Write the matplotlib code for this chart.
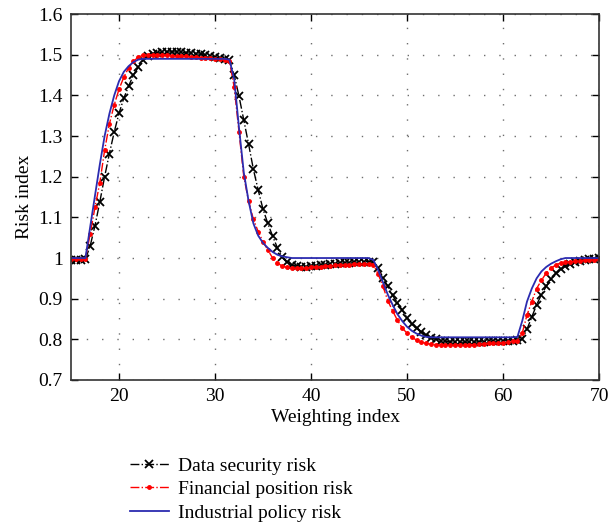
import numpy as np
import matplotlib
matplotlib.use("Agg")
import matplotlib.pyplot as plt

# weighting index grid (step 0.5)
weighting = np.arange(15, 70.5, 0.5)

data_security = [
    0.995, 0.995, 0.995, 0.997, 1.030, 1.080, 1.138, 1.200, 1.257, 1.310,   # 15 - 19.5
    1.356, 1.393, 1.423, 1.450, 1.469, 1.487, 1.496, 1.501, 1.504, 1.506,   # 20 - 24.5
    1.507, 1.507, 1.507, 1.506, 1.505, 1.504, 1.503, 1.501, 1.499, 1.497,   # 25 - 29.5
    1.494, 1.492, 1.490, 1.487, 1.450, 1.398, 1.339, 1.280, 1.218, 1.167,   # 30 - 34.5
    1.120, 1.085, 1.054, 1.025, 1.003, 0.990, 0.983, 0.980, 0.979, 0.979,   # 35 - 39.5
    0.980, 0.981, 0.982, 0.983, 0.985, 0.986, 0.987, 0.988, 0.989, 0.990,   # 40 - 44.5
    0.990, 0.991, 0.991, 0.990, 0.975, 0.952, 0.930, 0.908, 0.890, 0.872,   # 45 - 49.5
    0.853, 0.838, 0.827, 0.817, 0.810, 0.804, 0.800, 0.797, 0.795, 0.794,   # 50 - 54.5
    0.793, 0.793, 0.793, 0.793, 0.793, 0.794, 0.794, 0.795, 0.795, 0.796,   # 55 - 59.5
    0.796, 0.797, 0.797, 0.798, 0.800, 0.825, 0.855, 0.885, 0.910, 0.930,   # 60 - 64.5
    0.948, 0.962, 0.972, 0.980, 0.986, 0.990, 0.993, 0.995, 0.997, 0.998,   # 65 - 69.5
    0.999,                                                                  # 70
]

financial_position = [
    0.997, 0.997, 0.997, 0.998, 1.060, 1.125, 1.185, 1.265, 1.330, 1.377,   # 15 - 19.5
    1.415, 1.445, 1.468, 1.484, 1.494, 1.499, 1.500, 1.500, 1.500, 1.500,   # 20 - 24.5
    1.499, 1.498, 1.497, 1.497, 1.496, 1.495, 1.494, 1.493, 1.492, 1.491,   # 25 - 29.5
    1.490, 1.489, 1.488, 1.485, 1.420, 1.310, 1.200, 1.140, 1.095, 1.065,   # 30 - 34.5
    1.040, 1.020, 1.000, 0.988, 0.980, 0.977, 0.975, 0.975, 0.975, 0.976,   # 35 - 39.5
    0.977, 0.978, 0.979, 0.980, 0.981, 0.982, 0.983, 0.983, 0.984, 0.985,   # 40 - 44.5
    0.985, 0.986, 0.986, 0.984, 0.960, 0.930, 0.895, 0.870, 0.847, 0.828,   # 45 - 49.5
    0.815, 0.805, 0.798, 0.793, 0.790, 0.788, 0.787, 0.786, 0.786, 0.786,   # 50 - 54.5
    0.786, 0.786, 0.786, 0.787, 0.787, 0.788, 0.789, 0.790, 0.790, 0.791,   # 55 - 59.5
    0.792, 0.793, 0.795, 0.797, 0.815, 0.860, 0.893, 0.925, 0.945, 0.963,   # 60 - 64.5
    0.975, 0.983, 0.988, 0.990, 0.991, 0.992, 0.993, 0.994, 0.995, 0.996,   # 65 - 69.5
    0.997,                                                                  # 70
]

industrial_policy = [
    1.000, 1.000, 1.000, 1.000, 1.077, 1.154, 1.230, 1.300, 1.355, 1.400,   # 15 - 19.5
    1.435, 1.458, 1.472, 1.482, 1.488, 1.490, 1.490, 1.490, 1.490, 1.490,   # 20 - 24.5
    1.490, 1.490, 1.490, 1.490, 1.490, 1.490, 1.490, 1.490, 1.490, 1.490,   # 25 - 29.5
    1.490, 1.490, 1.490, 1.488, 1.440, 1.320, 1.210, 1.140, 1.085, 1.055,   # 30 - 34.5
    1.037, 1.025, 1.015, 1.008, 1.004, 1.002, 1.000, 1.000, 1.000, 1.000,   # 35 - 39.5
    1.000, 1.000, 1.000, 1.000, 1.000, 1.000, 1.000, 1.000, 1.000, 1.000,   # 40 - 44.5
    1.000, 1.000, 1.000, 0.995, 0.970, 0.940, 0.910, 0.885, 0.862, 0.845,   # 45 - 49.5
    0.831, 0.821, 0.814, 0.809, 0.806, 0.805, 0.805, 0.805, 0.805, 0.805,   # 50 - 54.5
    0.805, 0.805, 0.805, 0.805, 0.805, 0.805, 0.805, 0.805, 0.805, 0.805,   # 55 - 59.5
    0.805, 0.805, 0.805, 0.806, 0.845, 0.893, 0.925, 0.950, 0.967, 0.978,   # 60 - 64.5
    0.986, 0.992, 0.997, 1.000, 1.000, 1.000, 1.000, 1.000, 1.000, 1.000,   # 65 - 69.5
    1.000,                                                                  # 70
]

series_names = ["Data security risk", "Financial position risk", "Industrial policy risk"]
x_ticks = [20, 30, 40, 50, 60, 70]
y_ticks = [0.7, 0.8, 0.9, 1.0, 1.1, 1.2, 1.3, 1.4, 1.5, 1.6]
y_tick_labels = ["0.7", "0.8", "0.9", "1", "1.1", "1.2", "1.3", "1.4", "1.5", "1.6"]

plt.rcParams["font.family"] = ["Liberation Serif", "DejaVu Serif"]
plt.rcParams["font.size"] = 14

fig = plt.figure(figsize=(6.09, 5.31), dpi=100)
ax = fig.add_axes([0.1166, 0.2844, 0.867, 0.689])

ax.plot(weighting, data_security, color="black", linestyle="-.", linewidth=1.0,
        marker="x", markersize=6, markeredgewidth=1.3, label=series_names[0])
ax.plot(weighting, financial_position, color="red", linestyle="-.", linewidth=1.0,
        marker=".", markersize=5, label=series_names[1])
ax.plot(weighting, industrial_policy, color="#2b2bb0", linestyle="-", linewidth=1.3,
        label=series_names[2])

ax.set_xlim(15, 70)
ax.set_ylim(0.7, 1.6)
ax.set_xticks(x_ticks)
ax.set_yticks(y_ticks)
ax.set_yticklabels(y_tick_labels)
ax.tick_params(direction="in", top=True, right=True, length=5, width=1.0,
               labelsize=14, pad=6)
for side in ax.spines.values():
    side.set_linewidth(1.2)
    side.set_color("#333333")

ax.grid(True, color="#6e6e6e", linestyle=(0, (1, 10)), linewidth=1.0)

ax.set_xlabel("Weighting index", fontsize=14, labelpad=3)
ax.set_ylabel("Risk index", fontsize=14, labelpad=4)

fig.legend(loc="upper left", bbox_to_anchor=(0.213, 0.139), frameon=False,
           fontsize=14, handlelength=2.0, handletextpad=0.5, labelspacing=0.3,
           borderaxespad=0, borderpad=0)

fig.savefig("out.png", dpi=100)
